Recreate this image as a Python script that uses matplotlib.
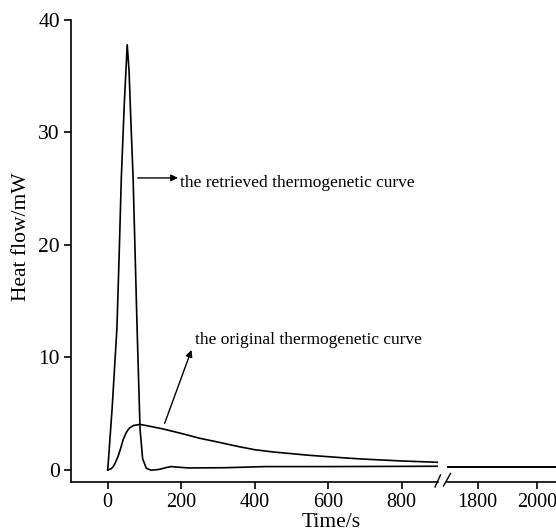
import matplotlib
matplotlib.use("Agg")
import matplotlib.pyplot as plt
from matplotlib.lines import Line2D

plt.rcParams["font.family"] = ["Liberation Serif", "DejaVu Serif"]

# Retrieved thermogenetic curve (time in s, heat flow in mW)
t_retrieved = [0, 12, 25, 31, 37, 45, 53, 58, 63, 69, 80, 88, 95, 105, 118,
               140, 160, 173, 190, 220, 320, 430, 600, 800, 900]
q_retrieved = [0, 5.5, 12.6, 19, 26, 32.5, 37.8, 35.5, 31, 26, 12.5, 3.6, 1.0,
               0.15, -0.02, 0.05, 0.22, 0.3, 0.25, 0.18, 0.2, 0.3, 0.3, 0.32, 0.33]

# Original thermogenetic curve
t_original = [0, 10, 15, 20, 28, 35, 42, 50, 55, 60, 70, 87, 100, 150, 200,
              250, 300, 350, 400, 450, 500, 550, 600, 650, 700, 750, 800, 850, 900]
q_original = [0, 0.12, 0.3, 0.6, 1.2, 1.9, 2.7, 3.3, 3.55, 3.75, 3.95, 4.05,
              3.98, 3.65, 3.25, 2.82, 2.48, 2.12, 1.8, 1.6, 1.45, 1.3, 1.18,
              1.06, 0.96, 0.88, 0.8, 0.74, 0.68]

# Long-time tail after the axis break
t_tail = [1696, 1800, 1900, 2000, 2065]
q_tail_retrieved = [0.22, 0.22, 0.22, 0.22, 0.22]
q_tail_original = [0.3, 0.3, 0.3, 0.3, 0.3]

yticks = [0, 10, 20, 30, 40]
xticks_left = [0, 200, 400, 600, 800]
xticks_right = [1800, 2000]

W, H = 556, 531
fig = plt.figure(figsize=(W / 100, H / 100), dpi=100)

bottom = 1 - 482 / H
height = (482 - 20) / H
ax1 = fig.add_axes([71 / W, bottom, (438 - 71) / W, height])
ax2 = fig.add_axes([447 / W, bottom, (W - 447) / W, height])

lw = 1.2
ax1.plot(t_retrieved, q_retrieved, color="black", lw=lw)
ax1.plot(t_original, q_original, color="black", lw=lw)
ax2.plot(t_tail, q_tail_retrieved, color="black", lw=lw)
ax2.plot(t_tail, q_tail_original, color="black", lw=lw)

ax1.set_xlim(-100, 899)
ax2.set_xlim(1696, 2065)
for ax in (ax1, ax2):
    ax.set_ylim(-1.07, 40)
    ax.spines["top"].set_visible(False)
    ax.spines["right"].set_visible(False)
    ax.tick_params(direction="out", length=5, width=1.2, pad=3)
    ax.tick_params(axis="x", labelsize=14.5)
    ax.tick_params(axis="y", labelsize=15.5)
    ax.spines["bottom"].set_linewidth(1.2)
ax1.spines["left"].set_linewidth(1.2)

ax1.set_yticks(yticks)
ax1.set_xticks(xticks_left)
ax2.set_xticks(xticks_right)
ax2.spines["left"].set_visible(False)
ax2.set_yticks([])

ax1.set_ylabel("Heat flow/mW", fontsize=15.5)
ax1.yaxis.set_label_coords(-0.11, 0.53)
ax1.set_xlabel("Time/s", fontsize=15.5)
ax1.xaxis.set_label_coords(0.708, -0.068)

# Annotations
ax1.annotate("", xy=(191, 25.96), xytext=(81.7, 25.96),
             arrowprops=dict(arrowstyle="-|>", color="black", lw=1.0,
                             mutation_scale=10, shrinkA=0, shrinkB=0))
ax1.text(196, 25.5, "the retrieved thermogenetic curve", fontsize=12.5,
         va="center", ha="left")
ax1.annotate("", xy=(228, 10.67), xytext=(155, 4.15),
             arrowprops=dict(arrowstyle="-|>", color="black", lw=1.0,
                             mutation_scale=10, shrinkA=0, shrinkB=0))
ax1.text(237, 11.56, "the original thermogenetic curve", fontsize=12.5,
         va="center", ha="left")

# Axis break marks
for x0, y0, x1, y1 in [(435, 487, 440.5, 475), (443.5, 486, 450.5, 473.5)]:
    fig.add_artist(Line2D([x0 / W, x1 / W], [1 - y0 / H, 1 - y1 / H],
                          color="black", lw=1.0, transform=fig.transFigure))

fig.savefig("out.png", dpi=100)
